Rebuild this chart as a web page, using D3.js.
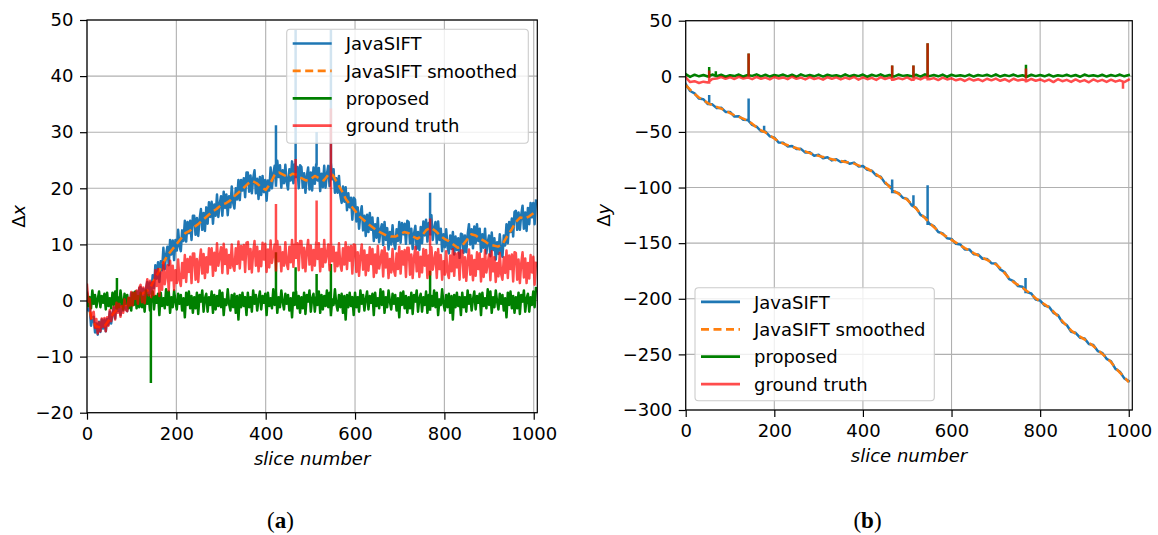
<!DOCTYPE html>
<html>
<head>
<meta charset="utf-8">
<script src="https://cdn.jsdelivr.net/npm/d3@7"></script>
<style>
  html, body { margin: 0; padding: 0; background: #ffffff; }
  svg { display: block; }
</style>
</head>
<body>
<svg id="fig" width="1158" height="535"></svg>
<script>
// ---------------------------------------------------------------------------
// Data: per-slice registration offsets. Dense series are sampled every
// `fineStep` slices, smoother ones every `coarseStep` slices. Isolated
// single-slice outliers are listed separately as [slice, value].
// ---------------------------------------------------------------------------
const fineStep = 3;
const coarseStep = 10;

const xTickValues = [0, 200, 400, 600, 800, 1000];
const dxTickValues = [-20, -10, 0, 10, 20, 30, 40, 50];
const dyTickValues = [-300, -250, -200, -150, -100, -50, 0, 50];

const seriesNames = ["JavaSIFT", "JavaSIFT smoothed", "proposed", "ground truth"];
const panelCaptions = ["a", "b"];

// ---- Δx (one row = 30 slices) ----
const dxJavaSift = [
  1.4, -1.8, -1.2, -4.5, -3.2, -2.9, -5.7, -4.1, -6.1, -3.8,
  -5.6, -3.4, -5.0, -3.4, -5.5, -3.3, -4.3, -2.0, -4.1, -2.4,
  -1.2, -3.2, -0.4, -1.9, -0.5, -2.6, -0.6, -1.8, 0.3, -1.4,
  -1.9, 0.3, -0.8, 1.3, -0.8, 1.4, 0.3, 1.6, -0.4, 2.2,
  2.4, 0.1, 2.1, 0.0, 2.0, 3.3, 0.7, 3.2, 1.2, 4.5,
  2.2, 6.3, 3.9, 6.8, 3.3, 7.0, 5.4, 9.4, 5.6, 8.1,
  9.6, 6.3, 10.8, 8.2, 10.7, 7.2, 10.8, 8.9, 12.6, 9.7,
  8.8, 12.5, 10.6, 14.2, 10.5, 14.0, 12.0, 14.2, 10.8, 15.1,
  15.1, 11.7, 14.7, 11.5, 14.5, 16.3, 12.6, 15.6, 12.4, 16.6,
  13.7, 17.5, 14.9, 17.6, 13.7, 17.1, 15.1, 18.9, 14.9, 17.2,
  18.6, 15.1, 19.4, 16.5, 18.9, 15.2, 18.6, 16.6, 20.3, 17.5,
  16.4, 20.0, 18.0, 21.5, 17.9, 21.5, 19.6, 21.8, 18.4, 22.8,
  22.8, 19.4, 22.3, 19.1, 21.8, 23.2, 19.1, 21.7, 18.1, 22.0,
  18.8, 22.2, 19.3, 21.5, 17.8, 21.4, 19.6, 23.7, 20.0, 22.6,
  24.0, 20.5, 24.9, 22.0, 24.1, 20.1, 23.2, 20.9, 24.2, 21.1,
  19.8, 23.4, 21.4, 24.8, 20.9, 24.3, 22.0, 23.8, 20.0, 24.1,
  23.8, 20.1, 22.7, 19.2, 22.1, 23.7, 19.8, 22.8, 19.6, 23.7,
  20.8, 24.3, 21.4, 23.6, 19.5, 22.6, 20.2, 24.0, 20.1, 22.5,
  24.0, 20.4, 24.6, 21.6, 23.4, 19.2, 21.8, 19.2, 22.2, 18.8,
  17.4, 20.3, 17.6, 20.2, 16.1, 19.1, 16.6, 18.3, 14.4, 18.3,
  18.0, 14.1, 16.6, 12.8, 15.4, 16.8, 12.5, 15.1, 11.5, 15.3,
  12.2, 15.6, 12.6, 14.8, 10.6, 13.6, 11.2, 14.7, 10.4, 12.5,
  13.6, 9.9, 14.0, 10.8, 12.9, 9.1, 12.2, 10.0, 13.4, 10.4,
  9.2, 12.7, 10.6, 14.0, 10.3, 13.8, 11.8, 13.7, 10.1, 14.2,
  14.0, 10.2, 12.8, 9.2, 11.9, 13.3, 9.2, 12.2, 9.0, 13.1,
  10.2, 14.1, 11.6, 14.4, 10.5, 13.8, 11.8, 15.2, 10.8, 12.8,
  14.0, 10.2, 14.1, 10.8, 12.8, 8.8, 11.8, 9.5, 12.7, 9.6,
  8.4, 11.6, 9.2, 12.2, 8.2, 11.4, 9.0, 11.1, 7.6, 11.9,
  11.8, 8.5, 11.6, 8.6, 11.7, 13.6, 10.0, 12.7, 9.3, 13.2,
  10.2, 13.6, 10.6, 12.8, 8.7, 11.8, 9.4, 12.8, 8.4, 10.4,
  11.6, 7.9, 12.1, 9.0, 11.1, 7.3, 10.4, 8.3, 11.8, 8.9,
  7.8, 11.6, 9.8, 13.6, 10.2, 14.0, 12.2, 14.6, 11.4, 15.8,
  16.0, 12.6, 15.7, 12.6, 15.3, 16.9, 12.8, 15.7, 12.4, 16.5,
  13.6, 17.4, 14.8, 17.4, 13.6, 17.8
];
const dxJavaSiftSpikes = [[423, 31.0], [467, 48.0], [514, 29.8], [546, 48.0], [768, 19.0]];

const dxSmoothed = [
  0.2, -3.2, -4.6, -4.8, -4.5, -3.4, -2.2, -1.4, -1.0, -0.6,
  0.0, 0.5, 1.0, 1.5, 2.0, 3.6, 5.0, 6.6, 8.0, 9.0,
  10.0, 11.0, 12.0, 12.4, 13.1, 13.7, 14.4, 15.1, 15.8, 16.3,
  17.0, 17.3, 17.8, 18.6, 19.3, 20.0, 20.8, 21.3, 20.9, 20.2,
  19.7, 20.8, 22.4, 22.8, 22.4, 22.0, 22.6, 22.4, 21.8, 21.4,
  21.6, 22.2, 21.8, 21.4, 22.4, 22.4, 21.0, 19.6, 18.0, 17.0,
  16.0, 15.0, 14.3, 13.6, 13.0, 12.4, 12.0, 11.6, 11.4, 11.4,
  11.8, 12.2, 12.0, 11.4, 11.0, 11.6, 12.6, 13.0, 12.4, 11.6,
  11.0, 10.6, 10.0, 9.4, 9.8, 10.8, 11.8, 11.6, 11.0, 10.6,
  10.0, 9.8, 9.6, 10.0, 11.4, 12.6, 14.0, 14.8, 14.6, 15.0,
  15.6
];

const dxProposed = [
  1.2, -1.0, 0.6, -1.4, 1.8, -0.6, 1.0, -1.2, 0.2, 1.6,
  -1.2, 0.8, -0.4, 1.2, -1.6, 1.4, -1.0, 0.4, -1.4, 1.4,
  -0.8, 1.6, -1.4, 0.6, -1.2, 1.8, -0.2, -1.6, 1.2, -0.6,
  1.0, -1.4, 0.4, -1.8, 1.4, -0.8, 1.6, -1.4, 0.8, -1.2,
  1.4, -1.2, 0.6, -2.0, 1.8, -0.6, 1.0, -1.8, 0.2, 1.6,
  -1.6, 0.8, -0.4, 1.2, -2.6, 1.4, -1.0, 0.4, -1.4, 2.0,
  -0.8, 1.6, -2.2, 0.6, -1.2, 1.8, -0.2, -1.6, 1.2, -0.6,
  1.0, -1.8, 0.4, -3.0, 1.4, -0.8, 1.6, -1.4, 0.8, -2.2,
  0.6, -1.4, 1.4, -2.4, 1.0, -0.2, 1.8, -2.0, 0.4, 1.2,
  -2.0, 0.6, -0.8, 1.6, -2.2, 1.0, -1.6, 0.8, -1.0, 1.8,
  -1.2, 1.4, -2.6, 0.2, -0.8, 2.0, -0.6, -1.8, 1.0, -1.2,
  1.2, -2.2, 0.8, -3.4, 1.0, -1.2, 1.4, -1.0, 0.6, -2.6,
  1.4, -1.2, 0.6, -2.0, 1.8, -0.6, 1.0, -1.8, 0.2, 1.6,
  -1.6, 0.8, -0.4, 1.2, -2.6, 1.4, -1.0, 0.4, -1.4, 2.0,
  -0.8, 1.6, -2.2, 0.6, -1.2, 1.8, -0.2, -1.6, 1.2, -0.6,
  1.0, -1.8, 0.4, -3.0, 1.4, -0.8, 1.6, -1.4, 0.8, -2.2,
  0.6, -1.4, 1.4, -2.4, 1.0, -0.2, 1.8, -2.0, 0.4, 1.2,
  -2.0, 0.6, -0.8, 1.6, -2.2, 1.0, -1.6, 0.8, -1.0, 1.8,
  -1.2, 1.4, -2.6, 0.2, -0.8, 2.0, -0.6, -1.8, 1.0, -1.2,
  1.2, -2.2, 0.8, -3.4, 1.0, -1.2, 1.4, -1.0, 0.6, -2.6,
  1.4, -1.2, 0.6, -2.0, 1.8, -0.6, 1.0, -1.8, 0.2, 1.6,
  -1.6, 0.8, -0.4, 1.2, -2.6, 1.4, -1.0, 0.4, -1.4, 2.0,
  -0.8, 1.6, -2.2, 0.6, -1.2, 1.8, -0.2, -1.6, 1.2, -0.6,
  1.0, -1.8, 0.4, -3.0, 1.4, -0.8, 1.6, -1.4, 0.8, -2.2,
  0.6, -1.4, 1.4, -2.4, 1.0, -0.2, 1.8, -2.0, 0.4, 1.2,
  -2.0, 0.6, -0.8, 1.6, -2.2, 1.0, -1.6, 0.8, -1.0, 1.8,
  -1.2, 1.4, -2.6, 0.2, -0.8, 2.0, -0.6, -1.8, 1.0, -1.2,
  1.2, -2.2, 0.8, -3.4, 1.0, -1.2, 1.4, -1.0, 0.6, -2.6,
  1.4, -1.2, 0.6, -2.0, 1.8, -0.6, 1.0, -1.8, 0.2, 1.6,
  -1.6, 0.8, -0.4, 1.2, -2.6, 1.4, -1.0, 0.4, -1.4, 2.0,
  -0.8, 1.6, -2.2, 0.6, -1.2, 1.8, -0.2, -1.6, 1.2, -0.6,
  1.0, -1.8, 0.4, -3.0, 1.4, -0.8, 1.6, -1.4, 0.8, -2.2,
  0.6, -1.4, 1.4, -2.4, 1.0, -0.2, 1.8, -2.0, 0.4, 1.2,
  -2.0, 0.6, -0.8, 1.6, -1.2, 2.2
];
const dxProposedSpikes = [[67, 3.8], [143, -14.5], [423, 8.4], [467, 5.7], [514, 4.5], [546, 6.3], [768, 5.1]];

const dxGroundTruth = [
  2.8, -0.2, 0.3, -3.3, -2.4, -2.0, -4.9, -3.3, -5.9, -3.9,
  -5.5, -3.2, -4.7, -3.1, -5.5, -3.0, -4.5, -1.7, -3.7, -2.4,
  -1.1, -3.4, -0.4, -2.2, -0.6, -2.9, -1.0, -2.2, 0.2, -1.7,
  -1.9, 0.5, -0.9, 1.5, -0.9, 1.4, 0.3, 1.8, -0.6, 2.3,
  2.8, -0.3, 2.3, -0.5, 2.2, 3.8, 0.9, 3.5, 0.6, 3.3,
  1.0, 5.4, 2.6, 5.6, 0.8, 5.0, 1.9, 6.8, 2.9, 4.6,
  6.3, 1.8, 7.1, 3.6, 6.2, 1.9, 5.4, 3.1, 7.3, 3.6,
  2.6, 6.7, 4.0, 8.1, 3.3, 7.4, 5.1, 7.8, 3.1, 8.4,
  8.4, 3.7, 7.4, 3.3, 7.0, 9.1, 4.8, 8.3, 4.0, 7.7,
  5.0, 9.3, 6.4, 9.3, 4.4, 8.5, 5.3, 10.2, 6.2, 7.9,
  9.5, 4.9, 10.1, 6.5, 9.1, 4.8, 8.1, 5.8, 10.0, 6.2,
  5.3, 9.3, 6.5, 10.5, 5.7, 9.7, 7.3, 9.9, 5.1, 10.3,
  10.4, 5.6, 9.2, 5.0, 8.6, 10.6, 6.2, 9.6, 5.2, 8.8,
  6.1, 10.3, 7.3, 10.1, 5.1, 9.1, 5.9, 10.7, 6.7, 8.3,
  10.0, 5.4, 10.6, 7.0, 9.6, 5.2, 8.6, 6.2, 10.4, 6.6,
  5.6, 9.6, 6.8, 10.8, 6.0, 10.0, 7.6, 10.2, 5.4, 10.6,
  10.6, 5.8, 9.4, 5.2, 8.8, 10.8, 6.4, 9.8, 5.4, 9.0,
  6.2, 10.4, 7.4, 10.2, 5.2, 9.2, 6.0, 10.8, 6.8, 8.4,
  10.0, 5.4, 10.6, 7.0, 9.6, 5.2, 8.5, 6.1, 10.2, 6.4,
  5.3, 9.3, 6.4, 10.4, 5.6, 9.6, 7.1, 9.7, 4.8, 10.0,
  9.9, 5.1, 8.6, 4.4, 8.0, 10.0, 5.5, 8.9, 4.5, 8.1,
  5.3, 9.5, 6.5, 9.2, 4.2, 8.2, 4.9, 9.7, 5.7, 7.3,
  8.9, 4.3, 9.5, 5.9, 8.4, 4.0, 7.4, 5.0, 9.2, 5.4,
  4.4, 8.4, 5.6, 9.6, 4.8, 8.8, 6.4, 9.0, 4.2, 9.4,
  9.4, 4.6, 8.2, 4.0, 7.6, 9.6, 5.2, 8.6, 4.2, 7.8,
  5.0, 9.2, 6.2, 9.0, 4.0, 8.0, 4.7, 9.5, 5.5, 7.1,
  8.6, 4.0, 9.2, 5.6, 8.1, 3.7, 7.0, 4.6, 8.8, 5.0,
  4.0, 8.0, 5.2, 9.2, 4.4, 8.4, 5.9, 8.5, 3.7, 8.9,
  8.9, 4.1, 7.7, 3.5, 7.1, 9.1, 4.6, 8.0, 3.6, 7.2,
  4.4, 8.6, 5.6, 8.4, 3.4, 7.4, 4.2, 9.0, 5.0, 6.6,
  8.2, 3.6, 8.8, 5.2, 7.7, 3.3, 6.7, 4.3, 8.5, 4.7,
  3.7, 7.7, 4.9, 8.9, 4.0, 8.0, 5.6, 8.2, 3.4, 8.6,
  8.5, 3.7, 7.3, 3.1, 6.6, 8.6, 4.1, 7.5, 3.1, 6.7,
  3.9, 8.1, 5.0, 7.8, 2.8, 6.7
];
const dxGroundTruthSpikes = [[423, 17.0], [467, 25.0], [514, 17.6], [546, 34.0], [768, 14.4]];

// ---- Δy (one row = 100 slices) ----
const dyJavaSift = [
  -7.0, -13.2, -15.4, -20.0, -20.6, -25.0, -25.2, -28.6, -28.2, -32.0,
  -32.0, -36.2, -35.8, -39.0, -39.2, -43.6, -45.2, -49.4, -49.8, -54.0,
  -55.2, -59.6, -59.8, -63.0, -62.6, -65.4, -65.2, -68.6, -68.2, -71.4,
  -70.6, -73.6, -72.8, -75.6, -74.6, -77.0, -76.2, -78.6, -77.6, -81.0,
  -80.6, -84.0, -84.8, -89.2, -90.2, -96.0, -98.6, -104.0, -104.8, -109.2,
  -110.2, -116.0, -118.2, -124.6, -126.8, -132.6, -134.6, -140.0, -141.2, -145.6,
  -146.2, -150.6, -151.2, -155.6, -155.6, -160.0, -160.2, -164.0, -164.2, -168.0,
  -168.2, -173.6, -176.2, -182.4, -184.2, -188.6, -189.2, -194.0, -195.2, -200.6,
  -201.6, -206.0, -207.2, -212.6, -214.6, -221.0, -223.6, -229.6, -230.6, -235.0,
  -235.6, -240.6, -241.6, -247.0, -248.6, -254.0, -256.2, -263.0, -265.6, -271.6,
  -274.0
];
const dyJavaSiftSpikes = [[53, -18.0], [142, -21.0], [177, -45.5], [466, -94.0], [514, -108.0], [546, -99.0], [767, -182.5]];

const dySmoothed = [
  -8.0, -12.0, -16.0, -19.0, -21.5, -24.0, -26.0, -27.5, -29.0, -31.0,
  -33.0, -35.0, -36.5, -38.0, -40.0, -42.5, -46.0, -48.5, -50.5, -53.0,
  -56.0, -58.5, -60.5, -62.0, -63.5, -64.5, -66.0, -67.5, -69.0, -70.5,
  -71.5, -72.5, -73.5, -74.5, -75.5, -76.0, -77.0, -77.5, -78.5, -80.0,
  -81.5, -83.0, -85.5, -88.0, -91.0, -95.0, -99.5, -103.0, -105.5, -108.0,
  -111.0, -115.0, -119.0, -123.5, -127.5, -131.5, -135.5, -139.0, -142.0, -144.5,
  -147.0, -149.5, -152.0, -154.5, -156.5, -159.0, -161.0, -163.0, -165.0, -167.0,
  -169.0, -172.5, -177.0, -181.5, -185.0, -187.5, -190.0, -193.0, -196.0, -199.5,
  -202.5, -205.0, -208.0, -211.5, -215.5, -220.0, -224.5, -228.5, -231.5, -234.0,
  -236.5, -239.5, -242.5, -246.0, -249.5, -253.0, -257.0, -262.0, -266.5, -270.5,
  -275.0
];

const dyProposed = [
  2.0, -0.5, 1.5, 0.0, 1.2, -0.2, 1.6, 0.2, 1.4, -0.4,
  1.0, 0.2, 1.6, -0.2, 1.2, 0.4, 1.8, 0.0, 1.4, -0.2,
  1.2, 0.4, 1.6, 0.0, 1.4, -0.4, 1.8, 0.2, 1.2, 0.0,
  1.6, -0.2, 1.4, 0.4, 1.0, -0.2, 1.8, 0.0, 1.2, 0.2,
  1.6, -0.4, 1.4, 0.2, 1.8, 0.0, 1.2, -0.2, 1.6, 0.4,
  1.0, 0.0, 1.4, -0.2, 1.8, 0.2, 1.2, 0.0, 1.6, -0.4,
  1.4, 0.2, 1.0, 0.0, 1.6, -0.2, 1.2, 0.4, 1.4, 0.0,
  1.8, -0.2, 1.2, 0.2, 1.6, 0.0, 1.0, -0.4, 1.4, 0.2,
  1.2, 0.0, 1.6, -0.2, 1.0, 0.2, 1.4, 0.0, 1.2, -0.4,
  1.6, 0.2, 1.0, 0.0, 1.4, -0.2, 1.2, 0.2, 1.6, 0.0,
  1.2
];
const dyProposedSpikes = [[53, 7.2], [68, 3.5], [142, 19.5], [466, 8.6], [514, 8.6], [546, 28.7], [768, 9.3]];

const dyGroundTruth = [
  -1.0, -5.2, -4.4, -6.0, -4.8, -5.6, -2.4, -2.0, -0.6, -2.2,
  -0.8, -2.4, -0.4, -2.0, -1.0, -2.6, -0.6, -2.2, -1.2, -2.8,
  -0.6, -2.0, -1.0, -2.6, -0.4, -2.2, -1.2, -2.8, -0.8, -2.4,
  -1.4, -3.0, -0.8, -2.2, -1.0, -2.8, -1.2, -2.4, -0.6, -3.0,
  -1.0, -2.6, -1.4, -3.2, -0.8, -2.4, -1.2, -3.0, -1.6, -2.6,
  -1.0, -3.2, -1.4, -2.8, -0.8, -2.6, -1.6, -3.4, -1.2, -2.8,
  -1.8, -3.6, -2.4, -4.2, -2.0, -3.8, -2.6, -4.4, -2.2, -3.6,
  -2.0, -4.0, -2.6, -4.6, -2.2, -3.8, -2.8, -4.4, -2.4, -4.0,
  -2.8, -4.6, -3.0, -5.2, -2.6, -4.4, -3.2, -5.0, -2.8, -4.8,
  -3.4, -5.4, -2.8, -4.6, -3.2, -5.0, -3.0, -4.8, -3.6, -5.2,
  -3.0
];
const dyGroundTruthSpikes = [[53, 4.0], [142, 19.5], [466, 8.6], [514, 8.6], [546, 28.7], [768, 6.0], [987, -10.0]];

// ---------------------------------------------------------------------------
// Styling and layout
// ---------------------------------------------------------------------------
const FONT = "'DejaVu Sans', sans-serif";
const colors = { javasift: "#1f77b4", smoothed: "#ff7f0e", proposed: "#008000", truth: "#ff0000" };

const panels = [
  {
    box: { left: 87, right: 537.3, top: 20, bottom: 412.7 },
    yDomain: [-20, 50], yTicks: dxTickValues, axisVar: "x", yLabelX: 25,
    legend: { x: 286.7, y: 29.3, w: 241.6, h: 114 },
    captionX: 280.5, caption: panelCaptions[0],
    series: [
      { values: dxJavaSift, step: fineStep, spikes: dxJavaSiftSpikes, color: colors.javasift },
      { values: dxSmoothed, step: coarseStep, spikes: [], color: colors.smoothed, dashed: true },
      { values: dxProposed, step: fineStep, spikes: dxProposedSpikes, color: colors.proposed },
      { values: dxGroundTruth, step: fineStep, spikes: dxGroundTruthSpikes, color: colors.truth, alpha: 0.7 }
    ]
  },
  {
    box: { left: 685.7, right: 1132.3, top: 20.7, bottom: 410 },
    yDomain: [-300, 50], yTicks: dyTickValues, axisVar: "y", yLabelX: 609.5,
    legend: { x: 695, y: 287.7, w: 239.3, h: 113 },
    captionX: 867.5, caption: panelCaptions[1],
    series: [
      { values: dyJavaSift, step: coarseStep, spikes: dyJavaSiftSpikes, color: colors.javasift },
      { values: dySmoothed, step: coarseStep, spikes: [], color: colors.smoothed, dashed: true },
      { values: dyProposed, step: coarseStep, spikes: dyProposedSpikes, color: colors.proposed },
      { values: dyGroundTruth, step: coarseStep, spikes: dyGroundTruthSpikes, color: colors.truth, alpha: 0.7 }
    ]
  }
];

const svg = d3.select("#fig");
const tickFmt = d3.format("d");
const LW = 2.5;
const DASH = "8,4.5";

panels.forEach((p, pi) => {
  const b = p.box;
  const x = d3.scaleLinear().domain([0, 1008]).range([b.left, b.right]);
  const y = d3.scaleLinear().domain(p.yDomain).range([b.bottom, b.top]);
  const g = svg.append("g");

  // clip region = axes area
  const clipId = "clip-" + pi;
  svg.append("clipPath").attr("id", clipId)
    .append("rect").attr("x", b.left).attr("y", b.top)
    .attr("width", b.right - b.left).attr("height", b.bottom - b.top);

  // grid
  const grid = g.append("g").attr("stroke", "#b0b0b0").attr("stroke-width", 1.1);
  xTickValues.forEach(t => grid.append("line")
    .attr("x1", x(t)).attr("x2", x(t)).attr("y1", b.top).attr("y2", b.bottom));
  p.yTicks.forEach(t => grid.append("line")
    .attr("x1", b.left).attr("x2", b.right).attr("y1", y(t)).attr("y2", y(t)));

  // data lines (outliers are drawn in the same path so alpha does not stack)
  const line = d3.line().x(d => x(d[0])).y(d => y(d[1]));
  const plot = g.append("g").attr("clip-path", `url(#${clipId})`);
  p.series.forEach(s => {
    const pts = s.values.map((v, i) => [i * s.step, v]);
    let d = line(pts);
    s.spikes.forEach(([slice, peak]) => {
      const base = s.values[Math.min(s.values.length - 1, Math.round(slice / s.step))];
      d += line([[slice, base], [slice, peak]]);
    });
    plot.append("path")
      .attr("d", d)
      .attr("fill", "none")
      .attr("stroke", s.color)
      .attr("stroke-width", LW)
      .attr("stroke-opacity", s.alpha || 1)
      .attr("stroke-linejoin", "round")
      .attr("stroke-linecap", s.dashed ? "butt" : "square")
      .attr("stroke-dasharray", s.dashed ? DASH : null);
  });

  // spines
  g.append("rect")
    .attr("x", b.left).attr("y", b.top)
    .attr("width", b.right - b.left).attr("height", b.bottom - b.top)
    .attr("fill", "none").attr("stroke", "#000").attr("stroke-width", 1.2);

  // axes
  const xAxis = g.append("g").attr("transform", `translate(0,${b.bottom})`)
    .call(d3.axisBottom(x).tickValues(xTickValues).tickFormat(tickFmt).tickSize(7).tickPadding(7.5));
  const yAxis = g.append("g").attr("transform", `translate(${b.left},0)`)
    .call(d3.axisLeft(y).tickValues(p.yTicks).tickFormat(tickFmt).tickSize(7).tickPadding(6.5));
  [xAxis, yAxis].forEach(ax => {
    ax.select(".domain").remove();
    ax.selectAll(".tick line").attr("stroke", "#000").attr("stroke-width", 1.2);
    ax.selectAll(".tick text").attr("fill", "#000")
      .style("font-family", FONT).style("font-size", "18px");
  });

  // axis titles
  g.append("text")
    .attr("x", (b.left + b.right) / 2).attr("y", b.bottom + 52)
    .attr("text-anchor", "middle")
    .style("font-family", FONT).style("font-size", "18px").style("font-style", "italic")
    .text("slice number");

  const yl = g.append("text")
    .attr("transform", `translate(${p.yLabelX},${(b.top + b.bottom) / 2}) rotate(-90)`)
    .attr("text-anchor", "middle")
    .style("font-family", FONT).style("font-size", "18px");
  yl.append("tspan").text("\u0394");
  yl.append("tspan").style("font-style", "italic").text(p.axisVar);

  // legend
  const L = p.legend;
  const lg = g.append("g");
  lg.append("rect")
    .attr("x", L.x).attr("y", L.y).attr("width", L.w).attr("height", L.h)
    .attr("rx", 3.5).attr("ry", 3.5)
    .attr("fill", "#ffffff").attr("fill-opacity", 0.8)
    .attr("stroke", "#cccccc").attr("stroke-width", 1.1);
  p.series.forEach((s, i) => {
    const ry = L.y + 14.2 + i * 27.4;
    lg.append("line")
      .attr("x1", L.x + 6).attr("x2", L.x + 45).attr("y1", ry).attr("y2", ry)
      .attr("stroke", s.color).attr("stroke-width", 2.7)
      .attr("stroke-opacity", s.alpha || 1)
      .attr("stroke-dasharray", s.dashed ? DASH : null);
    lg.append("text")
      .attr("x", L.x + 59).attr("y", ry + 6.6)
      .style("font-family", FONT).style("font-size", "18px")
      .attr("fill", "#000")
      .text(seriesNames[i]);
  });

  // panel caption "(a)" / "(b)"
  const cap = svg.append("text")
    .attr("x", p.captionX).attr("y", 528)
    .attr("text-anchor", "middle")
    .style("font-family", "'Liberation Serif', 'DejaVu Serif', serif")
    .style("font-size", "23px")
    .attr("fill", "#000");
  cap.append("tspan").text("(");
  cap.append("tspan").style("font-weight", "bold").text(p.caption);
  cap.append("tspan").text(")");
});
</script>
</body>
</html>
